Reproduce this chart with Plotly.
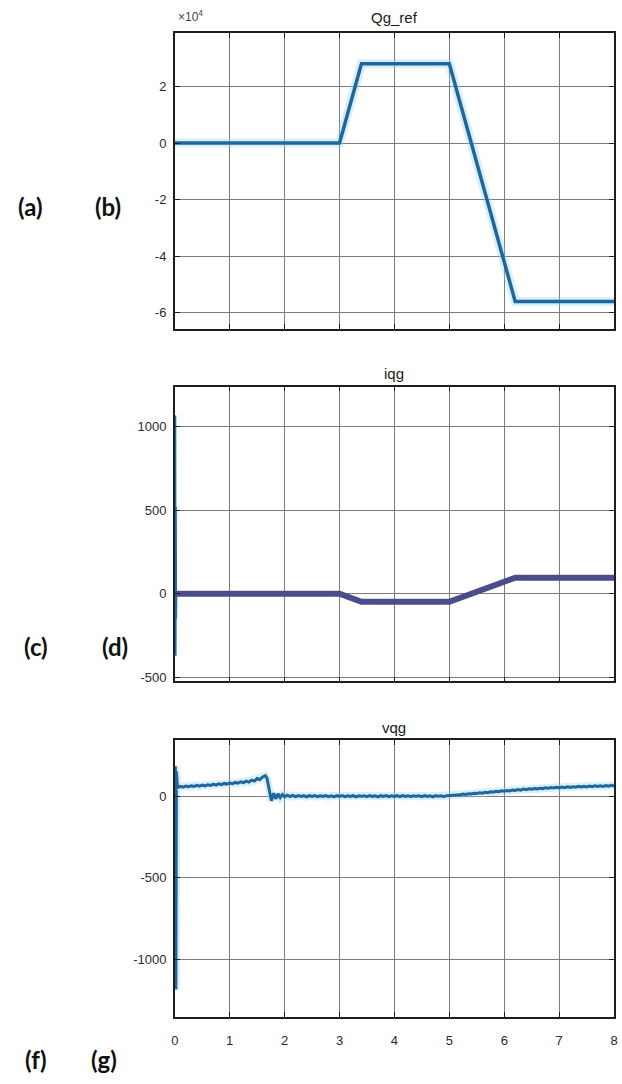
import plotly.graph_objects as go

W, H = 622, 1084

# ---------------- data ----------------
qg_t = [0, 3.0, 3.4, 5.0, 6.2, 8.0]
qg_v = [0, 0, 28000, 28000, -56000, -56000]

iqg_t = [0, 3.0, 3.4, 5.0, 6.2, 8.0]
iqg_v = [0, 0, -48, -48, 96, 96]

iqg_spike_t = [0.0, 0.005, 0.010, 0.015, 0.020, 0.025]
iqg_spike_v = [0, 1065, -370, 520, -150, 0]

vqg_t = [0.0, 0.01, 0.02, 0.03,
         0.05, 0.10, 0.15, 0.20, 0.25, 0.30, 0.35, 0.40, 0.45, 0.50,
         0.55, 0.60, 0.65, 0.70, 0.75, 0.80, 0.85, 0.90, 0.95, 1.00,
         1.05, 1.10, 1.15, 1.20, 1.25, 1.30, 1.35, 1.40, 1.45, 1.50,
         1.55, 1.60, 1.65, 1.68, 1.72, 1.76, 1.80, 1.84, 1.88, 1.92,
         1.96, 2.00, 2.05, 2.10, 2.15, 2.20, 2.25, 2.30, 2.35, 2.40,
         2.45, 2.50, 2.55, 2.60, 2.65, 2.70, 2.75, 2.80, 2.85, 2.90,
         2.95, 3.00, 3.05, 3.10, 3.15, 3.20, 3.25, 3.30, 3.35, 3.40,
         3.45, 3.50, 3.55, 3.60, 3.65, 3.70, 3.75, 3.80, 3.85, 3.90,
         3.95, 4.00, 4.05, 4.10, 4.15, 4.20, 4.25, 4.30, 4.35, 4.40,
         4.45, 4.50, 4.55, 4.60, 4.65, 4.70, 4.75, 4.80, 4.85, 4.90,
         4.95, 5.00, 5.05, 5.10, 5.15, 5.20, 5.25, 5.30, 5.35, 5.40,
         5.45, 5.50, 5.55, 5.60, 5.65, 5.70, 5.75, 5.80, 5.85, 5.90,
         5.95, 6.00, 6.05, 6.10, 6.15, 6.20, 6.25, 6.30, 6.35, 6.40,
         6.45, 6.50, 6.55, 6.60, 6.65, 6.70, 6.75, 6.80, 6.85, 6.90,
         6.95, 7.00, 7.05, 7.10, 7.15, 7.20, 7.25, 7.30, 7.35, 7.40,
         7.45, 7.50, 7.55, 7.60, 7.65, 7.70, 7.75, 7.80, 7.85, 7.90,
         7.95, 8.00]
vqg_v = [0, 183, -1183, 150,
         52, 60, 55, 62, 58, 64, 59, 66, 61, 68,
         63, 70, 66, 72, 68, 75, 70, 78, 74, 80,
         76, 84, 79, 88, 83, 92, 86, 98, 92, 108,
         102, 118, 126, 110, 40, -28, 18, -16, 14, -8,
         10, -4, 6, -2, 5, -3, 4, -2, 3, -4,
         3, -1, 4, -3, 2, -2, 4, -3, 2, -4,
         3, -1, 4, -3, 2, -2, 3, -4, 2, -1,
         3, -3, 4, -2, 2, -4, 3, -1, 4, -3,
         2, -2, 3, -3, 4, -2, 2, -3, 3, -1,
         2, -3, 3, -2, 2, -4, 3, -1, 2, -3,
         3, 4, 8, 5, 10, 8, 13, 10, 15, 13,
         18, 16, 21, 18, 24, 21, 27, 24, 30, 27,
         33, 30, 35, 32, 38, 35, 40, 37, 43, 40,
         45, 42, 47, 44, 49, 46, 51, 48, 53, 50,
         54, 51, 56, 52, 57, 54, 58, 55, 60, 56,
         61, 57, 62, 58, 63, 59, 64, 60, 65, 61,
         66, 62]

x_ticks = [0, 1, 2, 3, 4, 5, 6, 7, 8]
x_ticktext = ["0", "1", "2", "3", "4", "5", "6", "7", "8"]
qg_ticks = [-60000, -40000, -20000, 0, 20000]
qg_ticktext = ["-6", "-4", "-2", "0", "2"]
iqg_ticks = [-500, 0, 500, 1000]
iqg_ticktext = ["-500", "0", "500", "1000"]
vqg_ticks = [-1000, -500, 0]
vqg_ticktext = ["-1000", "-500", "0"]

# ---------------- geometry helpers ----------------
def px(x):
    return x / W

def py(y):
    return 1 - y / H

LEFT, RIGHT = 173, 618
panels = [(33, 330), (388, 684), (743, 1021)]

FAM = "Liberation Sans Narrow, Liberation Sans, Arial"
tick_font = dict(family=FAM, size=13, color="#2b2b2b")
title_font = dict(family=FAM, size=15, color="#1a1a1a")
lab_font = dict(family="Lato, Open Sans, sans-serif", size=24, color="#111111")

LINE_BLUE = "#1d679c"
HALO = "rgba(150,205,240,0.35)"
IQ_PURPLE = "#4a4d8c"
GRID = "#7c7c7c"

fig = go.Figure()

# panel 1
fig.add_trace(go.Scatter(x=qg_t, y=qg_v, mode="lines", line=dict(color=HALO, width=9),
                         xaxis="x", yaxis="y", hoverinfo="skip", showlegend=False))
fig.add_trace(go.Scatter(x=qg_t, y=qg_v, mode="lines", line=dict(color=LINE_BLUE, width=3.5),
                         xaxis="x", yaxis="y", name="Qg_ref", showlegend=False))
# panel 2
fig.add_trace(go.Scatter(x=iqg_spike_t, y=iqg_spike_v, mode="lines",
                         line=dict(color="#1f6fa8", width=2.5),
                         xaxis="x2", yaxis="y2", showlegend=False))
fig.add_trace(go.Scatter(x=iqg_t, y=iqg_v, mode="lines", line=dict(color=IQ_PURPLE, width=6),
                         xaxis="x2", yaxis="y2", name="iqg", showlegend=False))
# panel 3
fig.add_trace(go.Scatter(x=vqg_t, y=vqg_v, mode="lines", line=dict(color=HALO, width=8),
                         xaxis="x3", yaxis="y3", hoverinfo="skip", showlegend=False))
fig.add_trace(go.Scatter(x=vqg_t, y=vqg_v, mode="lines", line=dict(color=LINE_BLUE, width=3),
                         xaxis="x3", yaxis="y3", name="vqg", showlegend=False))

common_x = dict(range=[0, 8], tickvals=x_ticks, ticktext=x_ticktext, showgrid=True,
                gridcolor=GRID, gridwidth=1, zeroline=False, showline=True,
                linecolor="#1e1e1e", linewidth=1.5, mirror="ticks", ticks="inside",
                ticklen=5, tickcolor="#1e1e1e", tickfont=tick_font,
                domain=[px(LEFT), px(RIGHT)])
common_y = dict(showgrid=True, gridcolor=GRID, gridwidth=1, zeroline=False,
                showline=True, linecolor="#1e1e1e", linewidth=1.5, mirror="ticks",
                ticks="inside", ticklen=5, tickcolor="#1e1e1e", tickfont=tick_font,
                ticklabelstandoff=4)

fig.update_layout(
    width=W, height=H, autosize=False,
    margin=dict(l=0, r=0, t=0, b=0),
    paper_bgcolor="white", plot_bgcolor="white",
    showlegend=False,
    xaxis=dict(common_x, anchor="y", showticklabels=False),
    yaxis=dict(common_y, anchor="x", range=[-65600, 38900], tickvals=qg_ticks,
               ticktext=qg_ticktext, domain=[py(panels[0][1]), py(panels[0][0])]),
    xaxis2=dict(common_x, anchor="y2", showticklabels=False),
    yaxis2=dict(common_y, anchor="x2", range=[-524, 1238], tickvals=iqg_ticks,
                ticktext=iqg_ticktext, domain=[py(panels[1][1]), py(panels[1][0])]),
    xaxis3=dict(common_x, anchor="y3", showticklabels=True, ticklabelstandoff=10),
    yaxis3=dict(common_y, anchor="x3", range=[-1352, 342], tickvals=vqg_ticks,
                ticktext=vqg_ticktext, domain=[py(panels[2][1]), py(panels[2][0])]),
)

ann = []
cx = (LEFT + RIGHT) / 2
for text, y in [("Qg_ref", 18), ("iqg", 375), ("vqg", 730)]:
    ann.append(dict(text=text, x=px(cx), y=py(y), xref="paper", yref="paper",
                    xanchor="center", yanchor="middle", showarrow=False, font=title_font))
ann.append(dict(text="×10<sup>4</sup>", x=px(174), y=py(16), xref="paper", yref="paper",
                xanchor="left", yanchor="middle", showarrow=False,
                font=dict(family=FAM, size=12, color="#444444")))
for text, x, y in [("(a)", 27, 207), ("(b)", 105, 207), ("(c)", 32, 649), ("(d)", 112, 649),
                   ("(f)", 32, 1063), ("(g)", 101, 1063)]:
    ann.append(dict(text="<b>" + text + "</b>", x=px(x), y=py(y), xref="paper", yref="paper",
                    xanchor="center", yanchor="middle", showarrow=False, font=lab_font))
fig.update_layout(annotations=ann)

fig.write_html("out.html", config={"displayModeBar": False},
               post_script="document.body.style.margin='0';document.body.style.padding='0';document.body.style.overflow='hidden';")
